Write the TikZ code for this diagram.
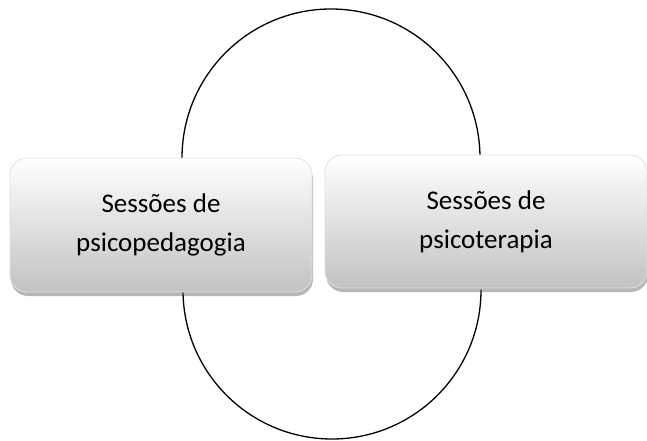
\documentclass[tikz,border=0pt]{standalone}
\usepackage{fontspec}
\setmainfont{Carlito}
\usetikzlibrary{shadows,positioning}
\begin{document}
\begin{tikzpicture}[x=1pt, y=1pt, line join=round, line cap=round,
        caixa/.style={draw=black!12, line width=0.8pt, rounded corners=17pt, top color=white, bottom color=black!24,
            drop shadow={shadow xshift=1pt, shadow yshift=-4pt, opacity=0.4, fill=black!70},
            align=center, font=\fontsize{27}{39}\selectfont, inner sep=0pt}]
            \useasboundingbox (0,0) rectangle (647,440);
            \draw[line width=1.3pt] (182,282) arc (180:0:149);
            \draw[line width=1.3pt] (183,150) arc (180:360:149);
            \node[caixa, minimum width=302, minimum height=134] (psicoped) at (161,215) {Sessões de\\psicopedagogia};
            \node[caixa, minimum width=322, minimum height=133] (psicoter) at (486,218.5) {Sessões de\\psicoterapia};
    \end{tikzpicture}
\end{document}
